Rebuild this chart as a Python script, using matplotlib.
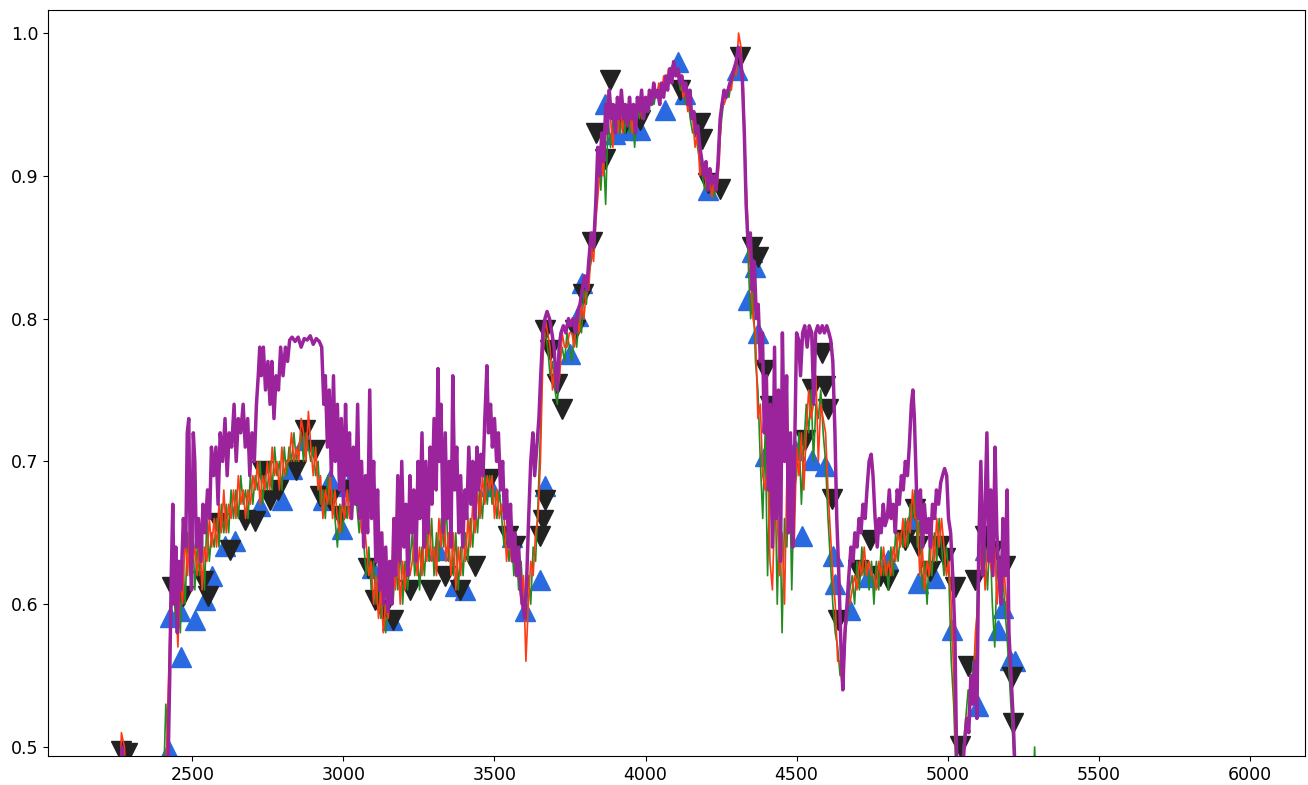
import numpy as np
import matplotlib
matplotlib.use("Agg")
import matplotlib.pyplot as plt


# 1. purple spectrum (wavelength, flux)

purple_pts = [
    (2200, 0.40), (2260, 0.45), (2268, 0.50), (2275, 0.44), (2400, 0.40),
    (2418, 0.47), (2425, 0.55), (2430, 0.62), (2435, 0.67), (2440, 0.60),
    (2445, 0.64), (2450, 0.58), (2455, 0.63), (2462, 0.61), (2470, 0.66),
    (2478, 0.64), (2483, 0.72), (2488, 0.73), (2492, 0.65), (2497, 0.61),
    (2503, 0.72), (2508, 0.70), (2513, 0.64), (2520, 0.66), (2528, 0.63),
    (2535, 0.67), (2542, 0.65), (2550, 0.68), (2557, 0.66), (2563, 0.71),
    (2570, 0.69), (2578, 0.71), (2585, 0.67), (2592, 0.72), (2600, 0.70),
    (2608, 0.73), (2615, 0.69), (2622, 0.72), (2630, 0.71), (2638, 0.74),
    (2645, 0.70), (2652, 0.73), (2660, 0.72), (2668, 0.74), (2675, 0.71),
    (2683, 0.73), (2690, 0.69), (2697, 0.72), (2705, 0.70), (2712, 0.74),
    (2718, 0.76), (2723, 0.78), (2728, 0.76), (2735, 0.78), (2742, 0.75),
    (2750, 0.77), (2757, 0.74), (2763, 0.77), (2770, 0.73), (2777, 0.76),
    (2785, 0.75), (2792, 0.78), (2800, 0.76), (2808, 0.78), (2815, 0.77),
    (2822, 0.785), (2830, 0.787), (2840, 0.784), (2850, 0.787), (2860, 0.78),
    (2870, 0.786), (2880, 0.785), (2890, 0.788), (2900, 0.782), (2910, 0.786),
    (2920, 0.784), (2928, 0.78), (2935, 0.74), (2940, 0.76), (2947, 0.71),
    (2953, 0.75), (2960, 0.69), (2967, 0.76), (2973, 0.70), (2980, 0.74),
    (2987, 0.68), (2993, 0.73), (3000, 0.67), (3007, 0.74), (3013, 0.69),
    (3020, 0.72), (3027, 0.66), (3033, 0.71), (3040, 0.67), (3047, 0.74),
    (3053, 0.66), (3060, 0.70), (3067, 0.64), (3073, 0.69), (3080, 0.65),
    (3087, 0.75), (3093, 0.66), (3100, 0.70), (3107, 0.63), (3113, 0.68),
    (3120, 0.61), (3127, 0.65), (3133, 0.60), (3140, 0.64), (3147, 0.595),
    (3153, 0.63), (3160, 0.60), (3167, 0.66), (3173, 0.62), (3180, 0.69),
    (3187, 0.63), (3193, 0.70), (3200, 0.64), (3207, 0.67), (3213, 0.62),
    (3220, 0.69), (3227, 0.65), (3233, 0.68), (3240, 0.63), (3247, 0.70),
    (3253, 0.66), (3260, 0.72), (3267, 0.64), (3273, 0.70), (3280, 0.65),
    (3287, 0.71), (3293, 0.67), (3300, 0.73), (3307, 0.68), (3313, 0.765),
    (3318, 0.70), (3323, 0.74), (3330, 0.65), (3337, 0.72), (3343, 0.66),
    (3350, 0.70), (3356, 0.64), (3362, 0.76), (3368, 0.68), (3375, 0.71),
    (3382, 0.65), (3388, 0.69), (3395, 0.64), (3402, 0.68), (3408, 0.66),
    (3415, 0.71), (3422, 0.67), (3428, 0.70), (3435, 0.66), (3442, 0.71),
    (3448, 0.68), (3455, 0.705), (3462, 0.69), (3468, 0.73), (3475, 0.767),
    (3480, 0.72), (3487, 0.74), (3493, 0.71), (3500, 0.73), (3507, 0.70),
    (3513, 0.72), (3520, 0.68), (3527, 0.70), (3533, 0.66), (3540, 0.68),
    (3547, 0.64), (3553, 0.67), (3560, 0.63), (3567, 0.65), (3573, 0.62),
    (3580, 0.64), (3587, 0.61), (3593, 0.60), (3600, 0.59), (3607, 0.62),
    (3613, 0.66), (3620, 0.70), (3627, 0.72), (3633, 0.69), (3640, 0.71),
    (3647, 0.73), (3653, 0.76), (3660, 0.79), (3667, 0.80), (3674, 0.805),
    (3682, 0.80), (3690, 0.79), (3697, 0.78), (3703, 0.76), (3708, 0.75),
    (3714, 0.78), (3720, 0.79), (3728, 0.795), (3736, 0.79), (3745, 0.80),
    (3752, 0.795), (3760, 0.80), (3768, 0.79), (3775, 0.805), (3783, 0.81),
    (3790, 0.82), (3798, 0.83), (3805, 0.82), (3812, 0.84), (3820, 0.86),
    (3828, 0.85), (3835, 0.88), (3842, 0.92), (3848, 0.90), (3855, 0.93),
    (3862, 0.91), (3868, 0.95), (3873, 0.93), (3880, 0.96), (3887, 0.94),
    (3893, 0.95), (3900, 0.93), (3907, 0.955), (3913, 0.94), (3920, 0.96),
    (3927, 0.94), (3933, 0.95), (3940, 0.935), (3947, 0.955), (3953, 0.94),
    (3960, 0.95), (3967, 0.93), (3973, 0.955), (3980, 0.945), (3987, 0.96),
    (3993, 0.94), (4000, 0.955), (4007, 0.945), (4013, 0.96), (4020, 0.95),
    (4027, 0.965), (4033, 0.955), (4040, 0.96), (4047, 0.95), (4053, 0.965),
    (4060, 0.955), (4067, 0.97), (4073, 0.96), (4080, 0.975), (4087, 0.965),
    (4093, 0.98), (4100, 0.97), (4107, 0.975), (4113, 0.965), (4120, 0.97),
    (4127, 0.96), (4133, 0.965), (4140, 0.95), (4147, 0.96), (4153, 0.94),
    (4160, 0.945), (4167, 0.93), (4173, 0.935), (4180, 0.92), (4187, 0.91),
    (4193, 0.90), (4200, 0.91), (4207, 0.89), (4213, 0.905), (4220, 0.895),
    (4227, 0.90), (4233, 0.89), (4240, 0.91), (4247, 0.94), (4253, 0.95),
    (4260, 0.96), (4267, 0.955), (4273, 0.96), (4280, 0.965), (4287, 0.97),
    (4293, 0.975), (4300, 0.98), (4307, 0.99), (4313, 0.985), (4320, 0.97),
    (4327, 0.93), (4333, 0.88), (4340, 0.85), (4347, 0.86), (4353, 0.82),
    (4360, 0.84), (4367, 0.80), (4373, 0.81), (4380, 0.77), (4387, 0.79),
    (4393, 0.72), (4400, 0.76), (4407, 0.68), (4413, 0.74), (4420, 0.64),
    (4427, 0.78), (4433, 0.66), (4440, 0.75), (4447, 0.63), (4453, 0.79),
    (4460, 0.70), (4467, 0.76), (4473, 0.65), (4480, 0.72), (4487, 0.64),
    (4493, 0.70), (4500, 0.79), (4507, 0.785), (4513, 0.76), (4520, 0.79),
    (4527, 0.795), (4535, 0.78), (4542, 0.795), (4550, 0.79), (4557, 0.74),
    (4563, 0.79), (4570, 0.795), (4577, 0.79), (4585, 0.795), (4592, 0.79),
    (4600, 0.795), (4607, 0.79), (4613, 0.785), (4620, 0.77), (4627, 0.72),
    (4633, 0.66), (4640, 0.62), (4647, 0.57), (4653, 0.54), (4660, 0.58),
    (4667, 0.60), (4673, 0.62), (4680, 0.64), (4687, 0.63), (4693, 0.65),
    (4700, 0.64), (4707, 0.66), (4713, 0.65), (4720, 0.67), (4727, 0.66),
    (4733, 0.68), (4740, 0.70), (4747, 0.705), (4753, 0.69), (4760, 0.66),
    (4767, 0.64), (4773, 0.66), (4780, 0.65), (4787, 0.67), (4793, 0.655),
    (4800, 0.66), (4807, 0.68), (4813, 0.66), (4820, 0.67), (4827, 0.65),
    (4833, 0.68), (4840, 0.67), (4847, 0.69), (4853, 0.68), (4860, 0.70),
    (4867, 0.69), (4873, 0.71), (4880, 0.74), (4885, 0.75), (4890, 0.73),
    (4897, 0.68), (4903, 0.66), (4910, 0.68), (4917, 0.64), (4923, 0.67),
    (4930, 0.65), (4937, 0.66), (4943, 0.64), (4950, 0.67), (4957, 0.66),
    (4963, 0.68), (4970, 0.67), (4977, 0.685), (4983, 0.69), (4990, 0.695),
    (4997, 0.69), (5003, 0.66), (5010, 0.65), (5017, 0.62), (5024, 0.58),
    (5030, 0.49), (5035, 0.45), (5045, 0.47), (5055, 0.50), (5063, 0.52),
    (5070, 0.51), (5077, 0.55), (5083, 0.53), (5090, 0.56), (5097, 0.52),
    (5103, 0.64), (5110, 0.70), (5117, 0.62), (5123, 0.66), (5130, 0.72),
    (5137, 0.63), (5143, 0.68), (5150, 0.62), (5157, 0.71), (5163, 0.65),
    (5170, 0.62), (5177, 0.60), (5183, 0.66), (5190, 0.62), (5197, 0.68),
    (5203, 0.58), (5210, 0.55), (5217, 0.52), (5222, 0.49), (5230, 0.45),
    (5300, 0.40), (5600, 0.35), (5990, 0.30),
]
purple_x = [p[0] for p in purple_pts]
purple_y = [p[1] for p in purple_pts]

# 2. green and red spectra share one wavelength grid

lower_x = [2255, 2265, 2275, 2285, 2400] + list(range(2412, 5229, 8)) + [5280, 5288, 5296]

green_y = [
    .44, .48, .47, .44, .44,
    .53, .50, .58, .62, .59, .61, .58, .63, .60, .65, .62, .66, .61, .64, .62, .65,
    .61, .66, .63, .65, .64, .66, .64, .67, .65, .67, .65, .68, .66, .68, .66, .69,
    .67, .68, .66, .69, .67, .69, .68, .70, .67, .69, .68, .70, .68, .71, .69, .70,
    .68, .71, .69, .71, .70, .72, .70, .71, .72, .70, .72, .71, .70, .71, .69, .70,
    .67, .68, .66, .69, .67, .68, .66, .64, .67, .65, .67, .66, .68, .66, .68, .67,
    .65, .67, .64, .62, .64, .61, .63, .60, .62, .59, .61, .58, .60, .62, .60, .63,
    .61, .64, .60, .63, .61, .63, .65, .62, .64, .61, .64, .62, .65, .63, .66, .62,
    .65, .63, .66, .64, .67, .63, .66, .62, .65, .61, .64, .62, .65, .63, .66, .64,
    .67, .65, .68, .66, .69, .67, .69, .67, .68, .66, .68, .66, .64, .65, .63, .65,
    .62, .64, .61, .63, .60, .59, .62, .60, .64, .63, .67, .72, .78, .79, .78, .76,
    .77, .75, .74, .77, .78, .77, .79, .78, .77, .79, .78, .80, .79, .82, .81, .83,
    .84, .86, .88, .91, .89, .92, .88, .94, .92, .94, .93, .95, .93, .945, .93, .95,
    .93, .945, .92, .95, .94, .955, .94, .955, .945, .96, .95, .96, .955, .965, .96, .97,
    .965, .975, .97, .975, .97, .96, .965, .95, .955, .94, .93, .935, .92, .91, .90, .89,
    .90, .89, .90, .885, .90, .92, .94, .955, .96, .955, .965, .97, .98, .99, .98, .95,
    .89, .84, .80, .82, .77, .75, .70, .66, .72, .62, .69, .64, .70, .60, .67, .58,
    .66, .64, .70, .61, .68, .69, .72, .67, .71, .74, .72, .75, .70, .74, .73, .75,
    .72, .70, .66, .63, .60, .58, .57, .55, .56, .58, .59, .61, .62, .60, .63, .61,
    .64, .62, .63, .61, .63, .60, .63, .61, .64, .62, .63, .61, .64, .62, .65, .63,
    .65, .64, .66, .64, .67, .66, .68, .64, .66, .61, .63, .60, .64, .62, .65, .63,
    .66, .64, .62, .64, .62, .56, .53, .48, .46, .47, .50, .52, .54, .53, .56, .55,
    .62, .66, .62, .64, .61, .65, .60, .57, .63, .61, .64, .60, .58, .55, .52, .49,
    .45, .45, .50, .45,
]

red_y = [
    .44, .51, .50, .45, .44,
    .48, .54, .60, .60, .61, .57, .62, .60, .65, .62, .66, .63, .64, .62, .65, .61,
    .64, .63, .66, .64, .66, .64, .67, .65, .68, .65, .67, .66, .68, .66, .69, .67,
    .68, .66, .68, .67, .69, .68, .70, .67, .69, .68, .70, .68, .71, .69, .70, .68,
    .71, .69, .70, .70, .72, .70, .71, .70, .73, .72, .70, .735, .71, .69, .71, .68,
    .69, .66, .68, .67, .69, .66, .68, .66, .65, .67, .66, .68, .66, .68, .67, .68,
    .67, .65, .66, .64, .62, .63, .60, .62, .59, .61, .58, .60, .59, .61, .63, .61,
    .64, .60, .63, .61, .64, .62, .63, .65, .62, .64, .62, .65, .63, .66, .63, .64,
    .62, .66, .64, .67, .63, .65, .62, .65, .61, .64, .62, .65, .63, .66, .64, .67,
    .65, .68, .66, .69, .67, .69, .68, .69, .66, .68, .66, .67, .66, .63, .65, .63,
    .64, .62, .63, .60, .62, .56, .60, .63, .62, .65, .66, .70, .77, .80, .79, .78,
    .75, .77, .75, .76, .79, .78, .78, .79, .79, .78, .80, .79, .81, .80, .82, .82,
    .85, .84, .87, .89, .92, .90, .93, .96, .94, .92, .95, .93, .95, .93, .95, .94,
    .945, .93, .95, .94, .955, .94, .955, .945, .96, .95, .965, .955, .965, .955, .97, .96,
    .975, .965, .98, .97, .975, .97, .955, .96, .945, .95, .94, .92, .93, .90, .91, .90,
    .89, .90, .885, .90, .89, .91, .95, .95, .955, .965, .96, .975, .97, 1.0, .99, .96,
    .90, .86, .83, .80, .79, .73, .74, .69, .68, .70, .63, .61, .67, .66, .62, .65,
    .60, .69, .66, .68, .64, .71, .69, .72, .68, .72, .75, .73, .74, .76, .70, .74,
    .73, .72, .68, .65, .62, .60, .56, .56, .54, .57, .60, .60, .61, .62, .61, .63,
    .62, .64, .62, .63, .62, .62, .61, .63, .62, .64, .62, .63, .62, .64, .63, .65,
    .64, .66, .64, .66, .65, .68, .66, .66, .62, .64, .61, .63, .62, .65, .63, .66,
    .64, .66, .64, .62, .63, .60, .55, .49, .47, .48, .49, .51, .52, .55, .54, .58,
    .60, .63, .65, .61, .64, .63, .62, .64, .60, .63, .61, .62, .60, .57, .54, .50,
    .46, .45, .49, .44,
]

# 3. triangle markers (blue = up, black = down)

blue_pts = [
    (2421, 0.497), (2427, 0.591), (2460, 0.595), (2463, 0.563), (2510, 0.589),
    (2543, 0.603), (2566, 0.620), (2609, 0.641), (2642, 0.644), (2725, 0.669),
    (2798, 0.673), (2831, 0.695), (2874, 0.715), (2933, 0.673), (2956, 0.687),
    (2996, 0.653), (3016, 0.683), (3095, 0.625), (3162, 0.589), (3314, 0.638),
    (3370, 0.613), (3403, 0.610), (3486, 0.683), (3559, 0.647), (3602, 0.595),
    (3651, 0.617), (3668, 0.683), (3750, 0.775), (3777, 0.802), (3790, 0.825),
    (3866, 0.950), (3899, 0.929), (3942, 0.932), (3982, 0.932), (4064, 0.946),
    (4107, 0.980), (4130, 0.957), (4207, 0.890), (4303, 0.974), (4340, 0.813),
    (4353, 0.847), (4363, 0.836), (4373, 0.790), (4396, 0.704), (4495, 0.708),
    (4518, 0.648), (4551, 0.701), (4594, 0.697), (4620, 0.634), (4627, 0.614),
    (4677, 0.596), (4737, 0.619), (4802, 0.631), (4882, 0.659), (4901, 0.615),
    (4958, 0.618), (5014, 0.582), (5100, 0.529), (5123, 0.638), (5166, 0.582),
    (5182, 0.597), (5205, 0.561), (5222, 0.560),
]
blue_x = [p[0] for p in blue_pts]
blue_y = [p[1] for p in blue_pts]

black_pts = [
    (2265, 0.497), (2285, 0.496), (2434, 0.612), (2470, 0.606), (2536, 0.616),
    (2550, 0.606), (2586, 0.657), (2626, 0.638), (2675, 0.659), (2708, 0.658),
    (2732, 0.693), (2758, 0.673), (2785, 0.680), (2844, 0.694), (2874, 0.722),
    (2907, 0.708), (2923, 0.676), (2956, 0.673), (2990, 0.662), (3022, 0.680),
    (3049, 0.676), (3082, 0.625), (3105, 0.603), (3132, 0.596), (3165, 0.589),
    (3221, 0.610), (3287, 0.610), (3337, 0.620), (3386, 0.610), (3436, 0.627),
    (3486, 0.688), (3545, 0.648), (3568, 0.641), (3651, 0.648), (3661, 0.659),
    (3668, 0.673), (3668, 0.792), (3684, 0.778), (3707, 0.754), (3724, 0.737),
    (3767, 0.792), (3793, 0.817), (3823, 0.854), (3836, 0.930), (3866, 0.912),
    (3883, 0.967), (3932, 0.937), (3982, 0.939), (4114, 0.960), (4180, 0.937),
    (4187, 0.926), (4207, 0.895), (4247, 0.891), (4313, 0.983), (4353, 0.850),
    (4373, 0.843), (4396, 0.764), (4412, 0.739), (4528, 0.715), (4551, 0.751),
    (4584, 0.776), (4594, 0.753), (4604, 0.737), (4617, 0.674), (4637, 0.589),
    (4703, 0.624), (4743, 0.645), (4776, 0.620), (4802, 0.617), (4858, 0.645),
    (4891, 0.667), (4901, 0.641), (4941, 0.623), (4974, 0.641), (4990, 0.632),
    (5024, 0.612), (5040, 0.501), (5067, 0.557), (5090, 0.617), (5123, 0.648),
    (5149, 0.637), (5189, 0.627), (5212, 0.549), (5216, 0.517),
]
black_x = [p[0] for p in black_pts]
black_y = [p[1] for p in black_pts]

# 4. plot

fig = plt.figure(figsize=(13.08, 7.85), dpi=100)
ax = fig.add_axes([0.0367, 0.037, 0.961, 0.950])

ax.plot(blue_x, blue_y, linestyle="none", marker="^", markersize=15,
        color="#2a6ae0", zorder=1)
ax.plot(black_x, black_y, linestyle="none", marker="v", markersize=15,
        color="#222222", zorder=1)

ax.plot(lower_x, green_y, color="#228b22", linewidth=1.2, zorder=2)
ax.plot(lower_x, red_y, color="#ff3a14", linewidth=1.2, zorder=2)
ax.plot(purple_x, purple_y, color="#9b239b", linewidth=2.5, zorder=3)

ax.set_xlim(2022, 6183)
ax.set_ylim(0.4937, 1.016)
ax.set_xticks([2500, 3000, 3500, 4000, 4500, 5000, 5500, 6000])
ax.set_yticks([0.5, 0.6, 0.7, 0.8, 0.9, 1.0])
ax.tick_params(labelsize=12.5)

fig.savefig("out.png", dpi=100)
